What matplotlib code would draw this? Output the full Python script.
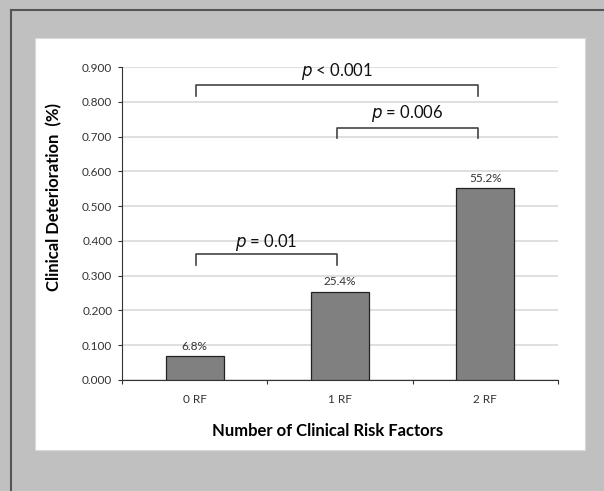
import matplotlib.pyplot as plt
from matplotlib.patches import Rectangle

plt.rcParams['font.family'] = ['Lato', 'DejaVu Sans']

categories = ["0 RF", "1 RF", "2 RF"]
values = [0.068, 0.254, 0.552]
value_labels = ["6.8%", "25.4%", "55.2%"]
yticks = [0.0, 0.1, 0.2, 0.3, 0.4, 0.5, 0.6, 0.7, 0.8, 0.9]

# brackets: (left, right, top, tick bottom, text y, label)
brackets = [
    (0.01, 0.98, 0.362, 0.330, 0.395, "= 0.01"),
    (0.98, 1.95, 0.724, 0.695, 0.767, "= 0.006"),
    (0.01, 1.95, 0.848, 0.816, 0.886, "< 0.001"),
]

fig = plt.figure(figsize=(6.04, 4.91), dpi=100)
fig.patch.set_facecolor("#c0c0c0")

# outer frame lines (top and left) and white panel
fig.add_artist(plt.Line2D([11/604, 11/604], [0, 1 - 10/491], color="#555555", lw=1.5, zorder=-2))
fig.add_artist(plt.Line2D([11/604, 1], [1 - 10/491, 1 - 10/491], color="#555555", lw=1.5, zorder=-2))
fig.add_artist(Rectangle((35/604, 1 - 450/491), 550/604, 412/491,
                         facecolor="white", edgecolor="#d8d8d8", lw=0.8, zorder=-1))

ax = fig.add_axes([122/604, 1 - 380/491, 436/604, 313/491])
ax.set_facecolor("white")
x = range(len(categories))
ax.bar(x, values, width=0.4, color="#808080", edgecolor="#222222", linewidth=0.9, zorder=3)

for i, v in enumerate(values):
    ax.text(i, v + 0.012, value_labels[i], ha="center", va="bottom", fontsize=8.5, color="#333333")

ax.set_xlim(-0.5, 2.5)
ax.set_ylim(0, 0.9)
ax.set_yticks(yticks)
ax.set_yticklabels([f"{t:.3f}" for t in yticks], fontsize=8.5, color="#333333")
ax.yaxis.grid(True, color="#d9d9d9", linewidth=1.2, zorder=0)
ax.set_axisbelow(True)

ax.set_xticks([-0.5, 0.5, 1.5, 2.5])
ax.set_xticklabels([])
ax.set_xticks(list(x), minor=True)
ax.set_xticklabels(categories, minor=True, fontsize=8.5, color="#333333")
ax.tick_params(axis="x", which="minor", length=0, pad=10)
ax.tick_params(axis="x", which="major", length=3, direction="out", color="#333333")
ax.tick_params(axis="y", length=3, direction="out", color="#333333", pad=4)

for s in ["top", "right"]:
    ax.spines[s].set_visible(False)
ax.spines["left"].set_color("#333333")
ax.spines["bottom"].set_color("#333333")

for l, r, top, bot, ty, lab in brackets:
    ax.plot([l, l, r, r], [bot, top, top, bot], color="#444444", lw=1.2, clip_on=False)
    ax.text((l + r) / 2, ty, r"$\it{p}$ " + lab, ha="center", va="center", fontsize=12, color="#111111")

ax.set_xlabel("Number of Clinical Risk Factors", fontsize=12, fontweight="bold")
ax.set_ylabel("Clinical Deterioration  (%)", fontsize=12, fontweight="bold")
ax.xaxis.set_label_coords(0.472, -0.138)
ax.yaxis.set_label_coords(-0.137, 0.585)

fig.savefig("out.png", dpi=100, facecolor=fig.get_facecolor())
